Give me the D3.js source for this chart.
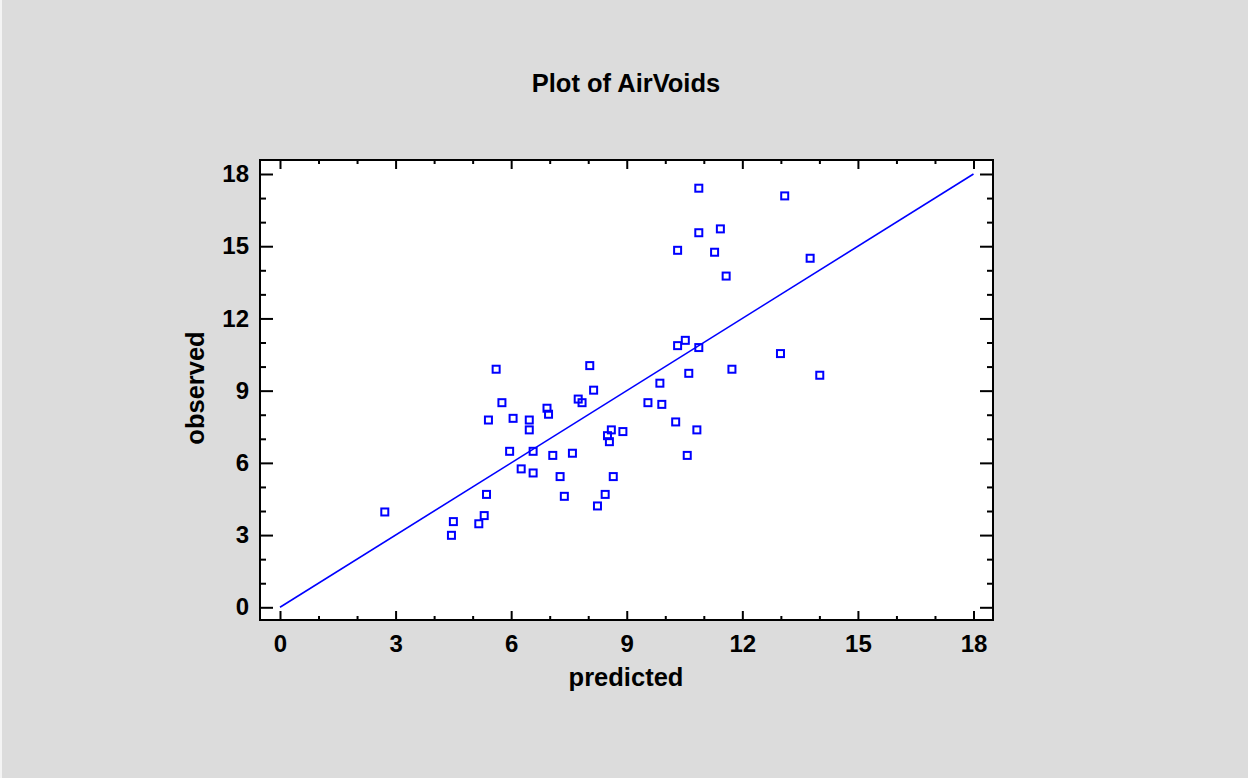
<!DOCTYPE html>
<html>
<head>
<meta charset="utf-8">
<script src="https://cdn.jsdelivr.net/npm/d3@7"></script>
<style>
  html, body { margin: 0; padding: 0; background: #dcdcdc; }
  svg { display: block; }
  text { font-family: "Liberation Sans", Arial, sans-serif; font-weight: bold; fill: #000; }
</style>
</head>
<body>
<script>
const title = "Plot of AirVoids";
const xLabel = "predicted";
const yLabel = "observed";
const xTicks = [0, 3, 6, 9, 12, 15, 18];
const yTicks = [0, 3, 6, 9, 12, 15, 18];
const predicted = [2.72, 4.45, 4.50, 5.16, 5.30, 5.36, 5.41, 5.61, 5.76, 5.96, 6.05, 6.26, 6.47, 6.47, 6.57, 6.57, 6.93, 6.97, 7.08, 7.27, 7.38, 7.59, 7.74, 7.84, 8.04, 8.14, 8.24, 8.44, 8.50, 8.55, 8.60, 8.65, 8.90, 9.55, 9.86, 9.91, 10.27, 10.32, 10.32, 10.52, 10.57, 10.61, 10.82, 10.87, 10.87, 10.87, 11.28, 11.43, 11.58, 11.73, 12.99, 13.10, 13.76, 14.01];
const observed = [3.96, 2.99, 3.56, 3.47, 3.81, 4.69, 7.78, 9.89, 8.50, 6.48, 7.85, 5.75, 7.78, 7.37, 6.48, 5.58, 8.27, 8.02, 6.31, 5.43, 4.61, 6.40, 8.65, 8.50, 10.04, 9.02, 4.21, 4.69, 7.13, 6.88, 7.37, 5.43, 7.30, 8.50, 9.31, 8.43, 7.70, 10.87, 14.83, 11.09, 6.31, 9.72, 7.37, 10.79, 15.56, 17.41, 14.75, 15.72, 13.76, 9.89, 10.54, 17.09, 14.50, 9.64];
const fitLine = [[0, 0], [18, 18]];

const W = 1248, H = 778;
const frame = { left: 260, right: 993, top: 160, bottom: 620 };

const svg = d3.select("body").append("svg").attr("width", W).attr("height", H);
svg.append("rect").attr("x", 0).attr("y", 0).attr("width", W).attr("height", H).attr("fill", "#dcdcdc");
svg.append("rect").attr("x", 0).attr("y", 0).attr("width", 2).attr("height", H).attr("fill", "#f4f4f4");

const x = d3.scaleLinear().domain([0, 18]).range([280, 973.5]);
const y = d3.scaleLinear().domain([0, 18]).range([607.3, 174]);

svg.append("rect")
  .attr("x", frame.left).attr("y", frame.top)
  .attr("width", frame.right - frame.left).attr("height", frame.bottom - frame.top)
  .attr("fill", "#fff");

const minorX = d3.range(0, 19, 1).filter(v => v % 3 !== 0);
const minorY = d3.range(0, 19, 1).filter(v => v % 3 !== 0);

function styleAxis(g) {
  g.select(".domain").remove();
  g.selectAll(".tick line").attr("stroke", "#000").attr("stroke-width", 2);
}
function styleText(g) {
  g.selectAll("text").attr("font-size", 24).attr("font-family", "Liberation Sans, Arial, sans-serif")
    .attr("font-weight", "bold").attr("fill", "#000");
}

// bottom axis
svg.append("g").attr("transform", `translate(0,${frame.bottom})`)
  .call(d3.axisBottom(x).tickValues(xTicks).tickSize(-9).tickPadding(15).tickFormat(d3.format("d")))
  .call(styleAxis).call(styleText);
svg.append("g").attr("transform", `translate(0,${frame.bottom})`)
  .call(d3.axisBottom(x).tickValues(minorX).tickSize(-4).tickFormat(""))
  .call(styleAxis);
// top axis
svg.append("g").attr("transform", `translate(0,${frame.top})`)
  .call(d3.axisTop(x).tickValues(xTicks).tickSize(-9).tickFormat(""))
  .call(styleAxis);
svg.append("g").attr("transform", `translate(0,${frame.top})`)
  .call(d3.axisTop(x).tickValues(minorX).tickSize(-4).tickFormat(""))
  .call(styleAxis);
// left axis
svg.append("g").attr("transform", `translate(${frame.left},0)`)
  .call(d3.axisLeft(y).tickValues(yTicks).tickSize(-13).tickPadding(11).tickFormat(d3.format("d")))
  .call(styleAxis).call(styleText);
svg.append("g").attr("transform", `translate(${frame.left},0)`)
  .call(d3.axisLeft(y).tickValues(minorY).tickSize(-6).tickFormat(""))
  .call(styleAxis);
// right axis
svg.append("g").attr("transform", `translate(${frame.right},0)`)
  .call(d3.axisRight(y).tickValues(yTicks).tickSize(-13).tickFormat(""))
  .call(styleAxis);
svg.append("g").attr("transform", `translate(${frame.right},0)`)
  .call(d3.axisRight(y).tickValues(minorY).tickSize(-6).tickFormat(""))
  .call(styleAxis);

// frame border
svg.append("rect")
  .attr("x", frame.left).attr("y", frame.top)
  .attr("width", frame.right - frame.left).attr("height", frame.bottom - frame.top)
  .attr("fill", "none").attr("stroke", "#000").attr("stroke-width", 2);

// fitted line
svg.append("path")
  .datum(fitLine)
  .attr("d", d3.line().x(d => x(d[0])).y(d => y(d[1])))
  .attr("stroke", "#0000ff").attr("stroke-width", 1.6).attr("fill", "none");

// points
const pts = predicted.map((p, i) => [p, observed[i]]);
svg.append("g").selectAll("rect").data(pts).join("rect")
  .attr("x", d => x(d[0]) - 3.5).attr("y", d => y(d[1]) - 3.5)
  .attr("width", 7).attr("height", 7)
  .attr("fill", "none").attr("stroke", "#0000ff").attr("stroke-width", 2);

// titles
svg.append("text").attr("x", 626).attr("y", 92).attr("text-anchor", "middle")
  .attr("font-size", 25.5).text(title);
svg.append("text").attr("x", 626).attr("y", 686).attr("text-anchor", "middle")
  .attr("font-size", 25.5).text(xLabel);
svg.append("text").attr("transform", "translate(204,388) rotate(-90)").attr("text-anchor", "middle")
  .attr("font-size", 25.5).text(yLabel);
</script>
</body>
</html>
